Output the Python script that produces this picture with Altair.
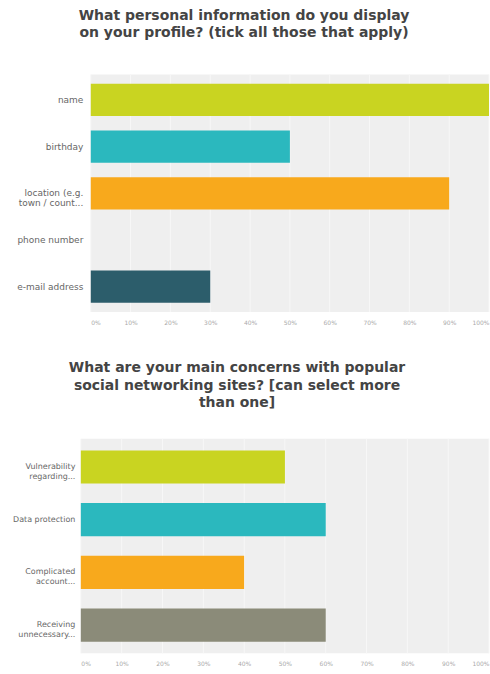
import altair as alt
import pandas as pd

top_items = ["name", "birthday", "location (e.g.|town / count...", "phone number", "e-mail address"]
top_values = [100, 50, 90, 0, 30]
top_colors = ["#c9d421", "#2bb8be", "#f8a91c", "#cccccc", "#2c5d6b"]

bot_items = ["Vulnerability|regarding...", "Data protection", "Complicated|account...", "Receiving|unnecessary..."]
bot_values = [50, 60, 40, 60]
bot_colors = ["#c9d421", "#2bb8be", "#f8a91c", "#8b8b79"]

ticks = [0, 10, 20, 30, 40, 50, 60, 70, 80, 90, 100]
bg_start = [0]
bg_end = [100]

top_df = pd.DataFrame({"item": top_items, "value": top_values})
bot_df = pd.DataFrame({"item": bot_items, "value": bot_values})
bg_df = pd.DataFrame({"start": bg_start, "end": bg_end})
grid_df = pd.DataFrame({"tick": ticks})

ALIGN = "datum.value == 0 ? 'left' : datum.value == 100 ? 'right' : 'center'"


def panel(df, items, colors, title, w, h, xmin, label_pad, label_size, pin, pout, dx, offset):
    xscale = alt.Scale(domain=[xmin, 100], nice=False, zero=False)
    xaxis = alt.Axis(values=ticks, labelExpr="datum.value + '%'", title=None,
                     domain=False, ticks=False, grid=False, labelColor="#aaaaaa",
                     labelFont="DejaVu Sans", labelFontSize=6, labelPadding=7,
                     labelFlush=False, labelAlign=alt.expr(ALIGN))
    bg = alt.Chart(bg_df).mark_rect(color="#efefef").encode(
        x=alt.X("start:Q", scale=xscale, axis=xaxis),
        x2="end:Q",
    )
    grid = alt.Chart(grid_df).mark_rule(color="#f7f7f7", strokeWidth=1).encode(
        x=alt.X("tick:Q", scale=xscale),
    )
    bars = alt.Chart(df).mark_bar().encode(
        x=alt.X("value:Q", scale=xscale),
        y=alt.Y("item:N", sort=items,
                scale=alt.Scale(paddingInner=pin, paddingOuter=pout),
                axis=alt.Axis(title=None, domain=False, ticks=False,
                              labelExpr="split(datum.label, '|')",
                              labelFont="DejaVu Sans",
                              labelColor="#666666", labelFontSize=label_size, labelLineHeight=10,
                              labelPadding=label_pad, minExtent=81, maxExtent=81)),
        color=alt.Color("item:N", scale=alt.Scale(domain=items, range=colors), legend=None),
    )
    return alt.layer(bg, grid, bars).properties(
        width=w, height=h,
        title=alt.TitleParams(title, fontSize=14, fontWeight="bold", color="#444444",
                              font="DejaVu Sans", anchor="middle", offset=offset,
                              lineHeight=17.5, dx=dx),
    )


top = panel(top_df, top_items, top_colors,
            ["What personal information do you display", "on your profile? (tick all those that apply)"],
            409, 238, -2.5, -2, 9, 0.31, 0.2, -41, 34)
bot = panel(bot_df, bot_items, bot_colors,
            ["What are your main concerns with popular", "social networking sites? [can select more", "than one]"],
            409, 215, 0, 6, 8, 0.37, 0.22, -48, 28)

chart = alt.vconcat(top, bot, spacing=36).resolve_scale(
    color="independent", x="independent"
).configure_view(
    stroke=None
).properties(
    padding={"top": 8, "left": 0, "right": 0, "bottom": 0},
    background="white",
)

chart.save("out.html", embed_options={"renderer": "svg", "actions": False})
